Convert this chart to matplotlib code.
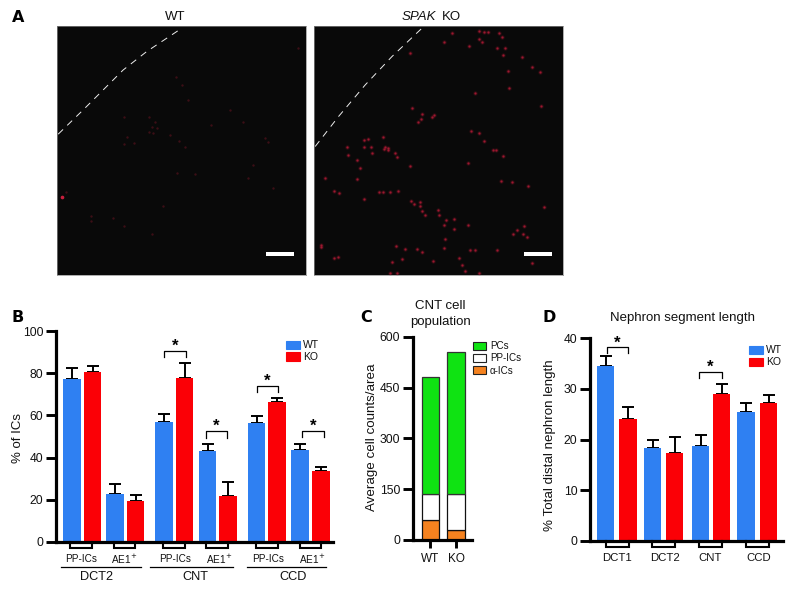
import matplotlib
matplotlib.use("Agg")
import matplotlib.pyplot as plt
from matplotlib.patches import Rectangle

plt.rcParams['font.family'] = ['Liberation Sans', 'DejaVu Sans']
W, H = 796, 592
BLUE, RED, GREEN, ORANGE = '#2f80f2', '#fb0006', '#0fe312', '#f5821f'

# ---------- data ----------
b_groups = ['DCT2', 'CNT', 'CCD']
b_subs = ['PP-ICs', 'AE1$^{+}$'] * 3
b_wt = [77.5, 22.5, 57, 43, 56.5, 43.5]
b_wt_err = [5, 5, 3.7, 3.5, 3.2, 3]
b_ko = [80.5, 19.2, 78, 21.7, 66.3, 33.5]
b_ko_err = [3, 2.8, 6.7, 6.6, 1.9, 2]
b_ticks = [0, 20, 40, 60, 80, 100]

c_cats = ['WT', 'KO']
c_alpha = [60, 30]
c_pp = [75, 105]
c_pc = [345, 420]
c_ticks = [0, 150, 300, 450, 600]

d_cats = ['DCT1', 'DCT2', 'CNT', 'CCD']
d_wt = [34.6, 18.3, 18.8, 25.5]
d_wt_err = [1.9, 1.6, 2.1, 1.7]
d_ko = [24.1, 17.3, 29, 27.2]
d_ko_err = [2.3, 3.1, 2, 1.6]
d_ticks = [0, 10, 20, 30, 40]

# fluorescent spots in the micrographs, in image units (1/3 pixel)
wt_spots = [(17,514),(28,499),(202,272),(277,274),(295,287),(285,302),(277,317),(300,307),(290,322),
            (340,327),(202,354),(233,350),(210,332),(368,345),(385,362),(462,297),(395,222),(375,177),
            (357,154),(560,287),(520,252),(625,337),(635,347),(723,67),(590,419),(575,457),(648,487),
            (360,442),(415,444),(320,540),(102,572),(102,587),(202,602),(285,625),(170,577)]
ko_spots = [(495,14),(512,19),(523,19),(495,40),(505,47),(465,60),(390,47),(415,20),(555,22),(565,34),
            (550,67),(573,67),(567,87),(625,92),(655,122),(680,137),(583,135),(585,187),(483,200),(681,239),
            (290,80),(295,247),(325,265),(322,279),(355,272),(360,267),(312,287),(472,315),(495,322),(512,344),
            (537,372),(547,372),(567,390),(462,412),(562,466),(594,468),(642,480),(150,342),(162,339),(100,362),
            (102,387),(152,363),(172,364),(175,382),(207,332),(213,362),(222,367),(210,370),(222,374),(245,382),
            (250,394),(130,402),(140,427),(130,459),(33,457),(60,497),(75,502),(150,519),(195,500),(207,499),
            (228,498),(253,497),(288,420),(291,525),(300,534),(320,542),(325,557),(335,567),(320,530),(373,552),
            (375,567),(397,582),(420,580),(390,599),(422,610),(462,599),(395,639),(610,612),(631,602),(597,624),
            (629,624),(640,634),(690,544),(23,657),(23,664),(60,697),(72,694),(247,660),(275,669),(310,669),
            (325,679),(265,699),(358,705),(235,709),(230,742),(250,742),(390,667),(435,697),(445,717),(453,737),
            (470,672),(485,672),(550,672),(655,712),(495,742)]
wt_edge_x = [5, 80, 130, 200, 270, 375]
wt_edge_y = [325, 252, 202, 132, 77, 7]
ko_edge_x = [5, 75, 155, 235, 330]
ko_edge_y = [362, 272, 177, 92, 2]


def px_axes(x0, x1, ytop, ybot):
    return fig.add_axes([x0 / W, 1 - ybot / H, (x1 - x0) / W, (ybot - ytop) / H])


def ftext(x, y, s, **kw):
    kw.setdefault('ha', 'center')
    kw.setdefault('va', 'center')
    kw.setdefault('color', '#111111')
    return fig.text(x / W, 1 - y / H, s, **kw)


def swatch(x, y, w, h, fc, ec=None):
    fig.add_artist(Rectangle((x / W, 1 - (y + h) / H), w / W, h / H, transform=fig.transFigure,
                             fc=fc, ec=ec if ec else fc, lw=0.8))


fig = plt.figure(figsize=(W / 100, H / 100), dpi=100, facecolor='white')

# ---------- panel A ----------
for x0, x1, spots, ex, ey, bar in [(56.5, 306, wt_spots, wt_edge_x, wt_edge_y, 628),
                                   (313.5, 563, ko_spots, ko_edge_x, ko_edge_y, 630)]:
    ax = px_axes(x0, x1, 26, 275)
    ax.set_xlim(0, 748)
    ax.set_ylim(748, 0)
    ax.set_facecolor('#090909')
    ax.set_xticks([])
    ax.set_yticks([])
    for s in ax.spines.values():
        s.set_color('#8a8a8a')
        s.set_linewidth(0.5)
    ax.plot(ex, ey, color='#eeeeee', lw=0.7, dashes=(7, 6))
    xs, ys = zip(*spots)
    if spots is ko_spots:
        ax.scatter(xs, ys, s=9, color='#8a1428', alpha=0.35, lw=0)
        ax.scatter(xs, ys, s=2.4, color='#b01a35', alpha=0.85, lw=0)
    else:
        ax.scatter(xs, ys, s=3, color='#3c0e16', lw=0)
        ax.scatter(xs[0], ys[0], s=7, color='#c81e3c', lw=0)
    ax.add_patch(Rectangle((bar, 679), 84, 13, fc='white', ec='none'))

ftext(175, 17, 'WT', fontsize=9.5)
ftext(402, 17, 'SPAK', fontsize=9.5, style='italic', ha='left')
ftext(451, 17, 'KO', fontsize=9.5)
for s, x, y in [('A', 18, 18), ('B', 18, 317), ('C', 366, 317), ('D', 549, 317)]:
    ftext(x, y, s, fontsize=11.5, fontweight='bold', family='DejaVu Sans', color='black')


def style_axis(ax, ticks, xlim, ylim, size=8.7):
    ax.set_xlim(*xlim)
    ax.set_ylim(*ylim)
    ax.set_yticks(ticks)
    ax.patch.set_alpha(0)
    for s in ['top', 'right']:
        ax.spines[s].set_visible(False)
    for s in ['left', 'bottom']:
        ax.spines[s].set_linewidth(2.3)
        ax.spines[s].set_color('black')
    ax.tick_params(axis='y', length=7, width=2.1, labelsize=size, pad=2, labelcolor='#111111')


def bars(ax, xs, vals, errs, color):
    ax.bar(xs, vals, width=17.3, color=color, lw=0, zorder=2)
    ax.errorbar(xs, vals, yerr=[[0] * len(vals), errs], fmt='none', ecolor='black',
                elinewidth=1.4, capsize=4, capthick=1.4, zorder=1)


def brace(ax, x0, x1, top, drop, star_gap):
    ax.plot([x0, x0, x1, x1], [top - drop, top, top, top - drop], color='black', lw=0.9, clip_on=False)
    ax.text((x0 + x1) / 2, top + star_gap, '*', ha='center', va='center', fontsize=12,
            fontweight='bold', color='black', family='Liberation Sans')


def under(ax, centers, width):
    tr = ax.get_xaxis_transform()
    for c in centers:
        ax.plot([c - width / 2, c - width / 2, c + width / 2, c + width / 2],
                [0, -0.031, -0.031, 0], transform=tr, color='black', lw=1.5, clip_on=False,
                solid_joinstyle='miter')


# ---------- panel B ----------
ax = px_axes(56, 333, 331.3, 541.7)
style_axis(ax, b_ticks, (56, 333), (0, 100))
ax.set_xticks([])
bx_wt = [72, 115, 164, 207.5, 256.5, 300]
bx_ko = [92.5, 135.5, 184.5, 228, 277, 321]
bars(ax, bx_wt, b_wt, b_wt_err, BLUE)
bars(ax, bx_ko, b_ko, b_ko_err, RED)
under(ax, [81, 124.5, 174, 217, 267, 310.5], 21.5)
brace(ax, 164, 186, 90.8, 3, 2.2)
brace(ax, 205.5, 227, 52.5, 3, 2.2)
brace(ax, 256.5, 278, 74, 3, 2.2)
brace(ax, 301.5, 324, 52.8, 3, 2.2)
for c, s in zip([81, 124.5, 175, 219, 268, 312], b_subs):
    ftext(c, 559.5, s, fontsize=7.2)
for x0, x1, c, s in zip([61, 150, 247.5], [140.5, 233, 326], [97, 195, 293], b_groups):
    fig.add_artist(plt.Line2D([x0 / W, x1 / W], [1 - 566.7 / H] * 2, color='black', lw=0.9))
    ftext(c, 577, s, fontsize=9.2)
ftext(18, 438, '% of ICs', fontsize=9.5, rotation=90)
swatch(285.7, 340.7, 14, 8.5, BLUE)
swatch(285.7, 352.3, 14, 8.5, RED)
ftext(303, 345, 'WT', fontsize=7.5, ha='left')
ftext(303, 356.5, 'KO', fontsize=7.5, ha='left')

# ---------- panel C ----------
ax = px_axes(412.7, 472, 336.7, 540)
style_axis(ax, c_ticks, (412.7, 472), (0, 600))
cx = [430.5, 456]
ax.bar(cx, c_alpha, width=17.5, color=ORANGE, ec='#111111', lw=0.9, zorder=2)
ax.bar(cx, c_pp, width=17.5, bottom=c_alpha, color='white', ec='#111111', lw=0.9, zorder=2)
ax.bar(cx, c_pc, width=17.5, bottom=[a + b for a, b in zip(c_alpha, c_pp)], color=GREEN,
       ec='#333333', lw=0.9, zorder=2)
ax.set_xticks(cx, c_cats)
ax.tick_params(axis='x', length=6, width=2.1, labelsize=8.5, pad=3, labelcolor='#111111')
ftext(440, 306, 'CNT cell', fontsize=9.5)
ftext(441, 322, 'population', fontsize=9.5)
ftext(372, 437, 'Average cell counts/area', fontsize=9.6, rotation=90)
for y, c, s in zip([341.8, 353.8, 366.3], [GREEN, 'white', ORANGE], ['PCs', 'PP-ICs', 'α-ICs']):
    swatch(472.7, y, 12.8, 8, c, '#222222')
    ftext(490, y + 4.3, s, fontsize=7.1, ha='left')

# ---------- panel D ----------
ax = px_axes(590, 783, 338.3, 540.7)
style_axis(ax, d_ticks, (590, 783), (0, 40))
ax.set_xticks([])
dx_wt = [605.5, 652.5, 700.5, 746]
dx_ko = [628, 674.5, 721.5, 768.5]
bars(ax, dx_wt, d_wt, d_wt_err, BLUE)
bars(ax, dx_ko, d_ko, d_ko_err, RED)
under(ax, [617, 663.5, 710.5, 757.5], 23)
brace(ax, 606.5, 628, 38.2, 1.2, 0.9)
brace(ax, 698.5, 721.5, 33.4, 1.2, 0.9)
for c, s in zip([617, 665, 710.5, 758.5], d_cats):
    ftext(c, 558, s, fontsize=8.2)
ftext(682, 318, 'Nephron segment length', fontsize=9.5)
ftext(550, 445, '% Total distal nephron length', fontsize=9.6, rotation=90)
swatch(748.7, 345.7, 14, 8.5, BLUE)
swatch(748.7, 357.5, 14, 8.5, RED)
ftext(765.7, 350, 'WT', fontsize=7.5, ha='left')
ftext(765.7, 361.8, 'KO', fontsize=7.5, ha='left')

fig.savefig('out.png', dpi=100, facecolor='white')
